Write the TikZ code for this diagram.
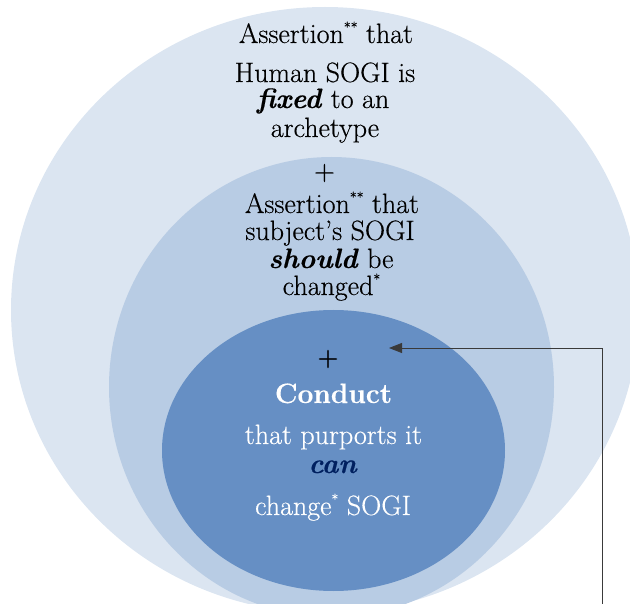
\documentclass[tikz,border=0pt]{standalone}
\usepackage{fontspec}
\setmainfont{Latin Modern Roman}[FakeBold=0.4]
\usetikzlibrary{arrows.meta}
\definecolor{outerc}{HTML}{DBE5F1}
\definecolor{midc}{HTML}{B8CCE4}
\definecolor{innerc}{HTML}{668FC4}
\definecolor{navy}{HTML}{002060}
\definecolor{linec}{HTML}{3A3A3A}
\newcommand{\starsup}[1]{\raisebox{0.9ex}{\fontsize{14}{14}\selectfont #1}}
\begin{document}
\begin{tikzpicture}[x=1pt,y=-1pt,
  txt/.style={anchor=base,inner sep=0pt,font=\fontsize{28}{30}\selectfont},
  wtxt/.style={txt,text=white},
  plus/.style={inner sep=0pt,font=\fontsize{29}{30}\selectfont},
  conn/.style={draw=linec,line width=0.8pt,-{Triangle[length=13pt,width=10pt]}}]
\useasboundingbox (0,0) rectangle (630,604);
\clip (0,0) rectangle (630,604);
\fill[outerc] (325,310) ellipse [x radius=314pt, y radius=303pt];
\fill[midc] (331.5,387) ellipse [x radius=222.5pt, y radius=230pt];
\fill[innerc] (333.5,450.5) ellipse [x radius=171.5pt, y radius=140.5pt];
\node[txt] (a1) at (326,43) {Assertion\starsup{**} that};
\node[txt] (a2) at (325,82) {Human SOGI is};
\node[txt] (a3) at (323,108) {\textbf{\textit{fixed}} to an};
\node[txt] (a4) at (325,137) {archetype};
\node[plus] (p1) at (324.5,173) {+};
\node[txt] (b1) at (332,213) {Assertion\starsup{**} that};
\node[txt] (b2) at (330,240) {subject’s SOGI};
\node[txt] (b3) at (331,268) {\textbf{\textit{should}} be};
\node[txt] (b4) at (331.5,295) {changed\starsup{*}};
\node[plus] (p2) at (328,359) {+};
\node[wtxt] (c1) at (333.5,403) {\textbf{Conduct}};
\node[wtxt] (c2) at (333.5,444) {that purports it};
\node[txt,text=navy] (c3) at (333,473) {\textbf{\textit{can}}};
\node[wtxt] (c4) at (333,515) {change\starsup{*} SOGI};
\coordinate (src) at (602,604);
\coordinate (tip) at (389,348);
\draw[conn] (src) |- (tip);
\end{tikzpicture}
\end{document}
